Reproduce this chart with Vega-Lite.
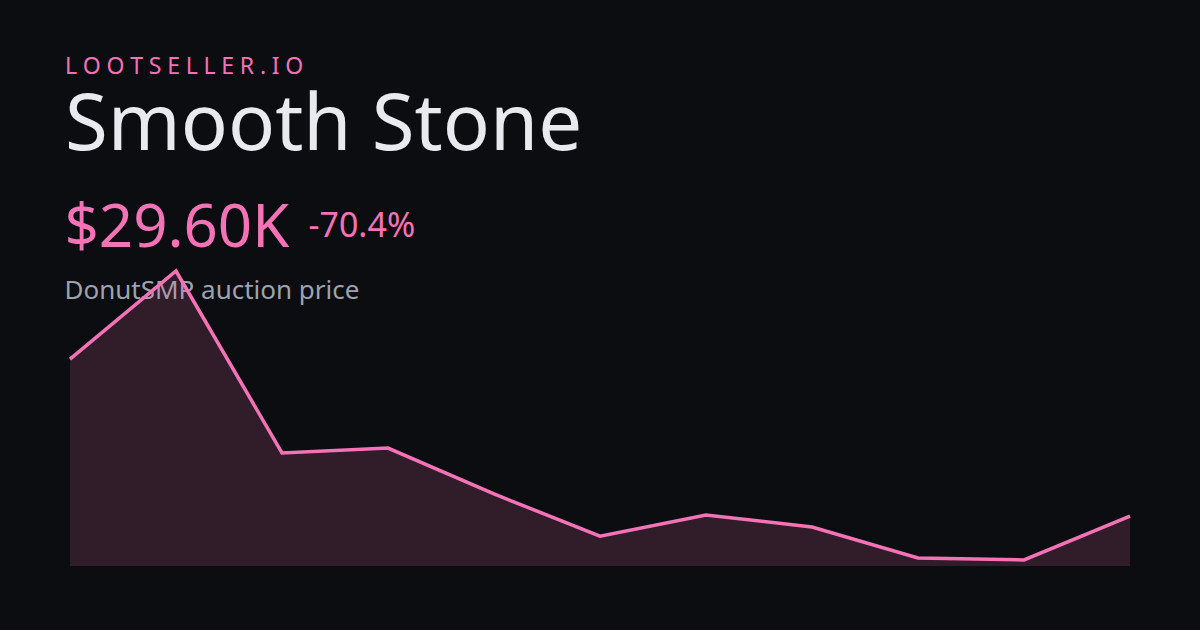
{
  "$schema": "https://vega.github.io/schema/vega-lite/v6.json",
  "description": "Smooth Stone auction price sparkline card.",
  "width": 1060,
  "height": 295,
  "autosize": "none",
  "padding": {"left": 70, "top": 271, "right": 70, "bottom": 64},
  "background": "#0c0d10",
  "config": {
    "view": {"stroke": null},
    "font": "Noto Sans",
    "axis": {"domain": false, "ticks": false, "labels": false, "grid": false, "titleFont": "Noto Sans", "titleFontWeight": "normal"}
  },
  "title": {
    "text": "L\u2005O\u2005O\u2005T\u2005S\u2005E\u2005L\u2005L\u2005E\u2005R\u2005.\u2005I\u2005O",
    "subtitle": "Smooth Stone",
    "anchor": "start",
    "frame": "group",
    "orient": "top",
    "font": "Noto Sans",
    "fontSize": 23,
    "fontWeight": "normal",
    "color": "#f472b6",
    "subtitleFont": "Noto Sans",
    "subtitleFontSize": 78,
    "subtitleColor": "#e8eaef",
    "subtitlePadding": 9,
    "offset": 32,
    "dx": -5
  },
  "data": {
    "values": [
      {"point": 0, "price": 100000},
      {"point": 1, "price": 139500},
      {"point": 2, "price": 57900},
      {"point": 3, "price": 60100},
      {"point": 4, "price": 39500},
      {"point": 5, "price": 20600},
      {"point": 6, "price": 30100},
      {"point": 7, "price": 24700},
      {"point": 8, "price": 10800},
      {"point": 9, "price": 9900},
      {"point": 10, "price": 29600}
    ]
  },
  "encoding": {
    "x": {
      "field": "point",
      "type": "quantitative",
      "scale": {"domain": [0, 10], "nice": false, "zero": false},
      "axis": {
        "title": "$29.60K",
        "titleFontSize": 60,
        "titleColor": "#f472b6",
        "titleAlign": "left",
        "titleAnchor": null,
        "titleBaseline": "alphabetic",
        "titleX": -6,
        "titleY": -320
      }
    }
  },
  "layer": [
    {
      "mark": {"type": "area", "color": "#f472b6", "opacity": 0.16},
      "encoding": {
        "y": {
          "field": "price",
          "type": "quantitative",
          "scale": {"domain": [7200, 139500], "nice": false, "zero": false},
          "axis": {
            "title": "-70.4%",
            "titleFontSize": 34,
            "titleColor": "#f472b6",
            "titleAngle": 0,
            "titleAlign": "left",
            "titleAnchor": null,
            "titleBaseline": "alphabetic",
            "titleX": 238,
            "titleY": -35
          }
        },
        "y2": {"datum": 7200}
      }
    },
    {
      "mark": {"type": "line", "color": "#f472b6", "strokeWidth": 3.5},
      "encoding": {
        "y": {
          "field": "price",
          "type": "quantitative",
          "axis": {
            "orient": "right",
            "title": "DonutSMP auction price",
            "titleFontSize": 26,
            "titleColor": "#9ca3af",
            "titleAngle": 0,
            "titleAlign": "left",
            "titleAnchor": null,
            "titleBaseline": "alphabetic",
            "titleX": -1066,
            "titleY": 27
          }
        }
      }
    }
  ],
  "resolve": {"axis": {"y": "independent"}}
}
